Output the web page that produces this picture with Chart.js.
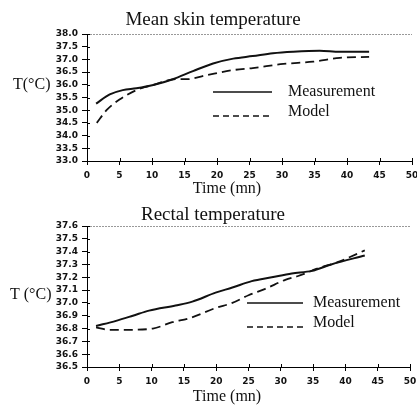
<!DOCTYPE html>
<html>
<head>
<meta charset="utf-8">
<script src="https://cdn.jsdelivr.net/npm/chart.js@4/dist/chart.umd.min.js"></script>
<style>
  html, body { margin: 0; padding: 0; background: #fff; }
  #wrap { position: relative; width: 417px; height: 410px; overflow: hidden; }
  canvas { position: absolute; left: 0; }
</style>
</head>
<body>
<div id="wrap">
  <canvas id="skin" width="425" height="205" style="top:0"></canvas>
  <canvas id="rectal" width="425" height="205" style="top:205px"></canvas>
</div>
<script>
// Mean skin temperature (top)
const skinMeasTime = [1.4, 3.5, 5.5, 7.6, 10.2, 13.2, 16.3, 19.4, 22.5, 25.5, 28.6, 31.7, 35.8, 38.9, 43.4];
const skinMeas     = [35.26, 35.62, 35.79, 35.86, 35.99, 36.22, 36.54, 36.84, 37.03, 37.13, 37.24, 37.30, 37.34, 37.30, 37.30];
const skinModelTime = [1.5, 3.0, 5.0, 7.6, 10.2, 13.7, 15.3, 18.4, 22.5, 25.5, 30.2, 34.8, 38.9, 43.4];
const skinModel     = [34.50, 35.00, 35.42, 35.79, 36.00, 36.22, 36.22, 36.38, 36.58, 36.66, 36.82, 36.91, 37.06, 37.10];

// Rectal temperature (bottom)
const rectMeasTime = [1.4, 4.5, 7.1, 9.6, 13.7, 16.3, 19.9, 22.5, 25.5, 28.6, 31.7, 34.8, 37.8, 43.0];
const rectMeas     = [36.82, 36.86, 36.90, 36.94, 36.98, 37.01, 37.08, 37.12, 37.17, 37.20, 37.23, 37.25, 37.30, 37.37];
const rectModelTime = [1.4, 3.5, 6.0, 10.2, 13.2, 15.8, 19.9, 22.5, 25.0, 27.6, 30.7, 32.7, 35.8, 38.9, 43.0];
const rectModel     = [36.81, 36.79, 36.79, 36.80, 36.85, 36.88, 36.96, 37.00, 37.06, 37.11, 37.18, 37.21, 37.27, 37.32, 37.41];

const seriesNames = ["Measurement", "Model"];
const xLabel = "Time (mn)";

const tickFont = { family: "DejaVu Sans", size: 9, weight: "bold" };
const serif = "Liberation Serif";

function pts(xs, ys) {
    return xs.map((x, i) => ({ x: x, y: ys[i] }));
}

// draws titles, horizontal y label, in-plot legend, inward ticks and top frame line
const textPlugin = {
    id: "extraText",
    afterDraw(chart, args, opts) {
        const ctx = chart.ctx;
        const area = chart.chartArea;
        const xs = chart.scales.x, ys = chart.scales.y;
        ctx.save();

        // top frame line
        ctx.strokeStyle = "#999";
        ctx.lineWidth = 1;
        ctx.setLineDash([2, 1]);
        ctx.beginPath();
        ctx.moveTo(area.left, area.top + 0.5);
        ctx.lineTo(area.right, area.top + 0.5);
        ctx.stroke();
        ctx.setLineDash([]);

        // inward half of the "+" ticks
        ctx.strokeStyle = "#000";
        xs.ticks.forEach(t => {
            const px = Math.round(xs.getPixelForValue(t.value)) + 0.5;
            ctx.beginPath();
            ctx.moveTo(px, area.bottom);
            ctx.lineTo(px, area.bottom - 3);
            ctx.stroke();
        });
        ys.ticks.forEach(t => {
            const py = Math.round(ys.getPixelForValue(t.value)) + 0.5;
            ctx.beginPath();
            ctx.moveTo(area.left, py);
            ctx.lineTo(area.left + 3, py);
            ctx.stroke();
        });

        ctx.fillStyle = "#111";
        ctx.textBaseline = "middle";

        ctx.font = "19px '" + serif + "'";
        ctx.textAlign = "center";
        ctx.fillText(opts.title, opts.titleX, opts.titleY);

        ctx.font = "16px '" + serif + "'";
        ctx.fillText(xLabel, opts.xLabelX, opts.xLabelY);

        ctx.textAlign = "left";
        ctx.fillText(opts.yLabel, opts.yLabelX, opts.yLabelY);

        // legend
        const lg = opts.legend;
        ctx.lineWidth = 1.5;
        ctx.strokeStyle = "#111";
        ctx.beginPath();
        ctx.moveTo(lg.x0, lg.y0);
        ctx.lineTo(lg.x1, lg.y0);
        ctx.stroke();
        ctx.setLineDash([6, 4]);
        ctx.beginPath();
        ctx.moveTo(lg.x0, lg.y1 + 4);
        ctx.lineTo(lg.x1, lg.y1 + 4);
        ctx.stroke();
        ctx.setLineDash([]);
        ctx.fillText(seriesNames[0], lg.tx, lg.y0);
        ctx.fillText(seriesNames[1], lg.tx, lg.y1);

        ctx.restore();
    }
};

function makeChart(id, cfg) {
    const ctx = document.getElementById(id).getContext("2d");
    return new Chart(ctx, {
        type: "line",
        data: {
            datasets: [{
                label: seriesNames[0],
                data: pts(cfg.measTime, cfg.meas),
                borderColor: "#111",
                borderWidth: 2,
                pointRadius: 0,
                fill: false,
                cubicInterpolationMode: "monotone"
            }, {
                label: seriesNames[1],
                data: pts(cfg.modelTime, cfg.model),
                borderColor: "#111",
                borderWidth: 1.8,
                borderDash: [9, 5],
                pointRadius: 0,
                fill: false,
                cubicInterpolationMode: "monotone"
            }]
        },
        options: {
            responsive: false,
            animation: false,
            layout: { padding: { left: 0, right: cfg.padRight, top: cfg.padTop, bottom: 0 } },
            plugins: {
                legend: { display: false },
                title: { display: false },
                tooltip: { enabled: false },
                extraText: cfg.text
            },
            scales: {
                x: {
                    type: "linear",
                    min: 0,
                    max: 50,
                    afterFit: s => { s.height = cfg.xHeight; },
                    ticks: { stepSize: 5, autoSkip: false, color: "#111", font: tickFont, padding: 5, maxRotation: 0 },
                    grid: { drawOnChartArea: false, tickLength: 4, color: "#000" },
                    border: { color: "#000", width: 1 }
                },
                y: {
                    min: cfg.yMin,
                    max: cfg.yMax,
                    afterFit: s => { s.width = 87; },
                    ticks: {
                        stepSize: cfg.yStep,
                        autoSkip: false,
                        color: "#111",
                        font: tickFont,
                        padding: 4,
                        callback: v => v.toFixed(1)
                    },
                    grid: { drawOnChartArea: false, tickLength: 5, color: "#000" },
                    border: { color: "#000", width: 1 }
                }
            }
        },
        plugins: [textPlugin]
    });
}

makeChart("skin", {
    measTime: skinMeasTime, meas: skinMeas,
    modelTime: skinModelTime, model: skinModel,
    yMin: 33, yMax: 38, yStep: 0.5,
    padTop: 34, padRight: 13, xHeight: 44,
    text: {
        title: "Mean skin temperature", titleX: 213, titleY: 20,
        yLabel: "T(°C)", yLabelX: 13, yLabelY: 85,
        xLabelX: 227, xLabelY: 189,
        legend: { x0: 213, x1: 272, y0: 92, y1: 112, tx: 288 }
    }
});

makeChart("rectal", {
    measTime: rectMeasTime, meas: rectMeas,
    modelTime: rectModelTime, model: rectModel,
    yMin: 36.5, yMax: 37.6, yStep: 0.1,
    padTop: 21, padRight: 15, xHeight: 43,
    text: {
        title: "Rectal temperature", titleX: 213, titleY: 10,
        yLabel: "T (°C)", yLabelX: 10, yLabelY: 90,
        xLabelX: 227, xLabelY: 192,
        legend: { x0: 247, x1: 303, y0: 98, y1: 118, tx: 313 }
    }
});
</script>
</body>
</html>
